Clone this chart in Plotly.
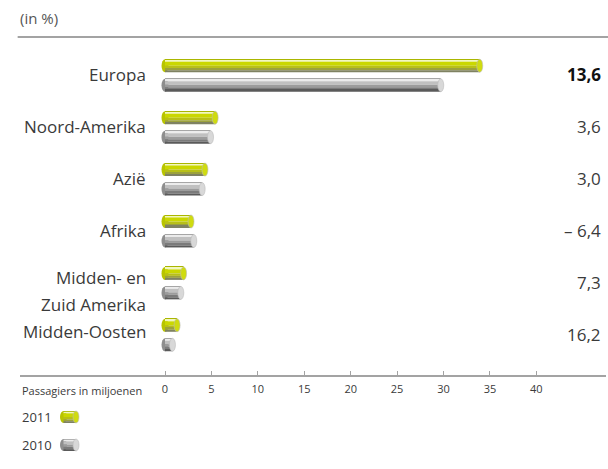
import plotly.graph_objects as go

categories = ["Europa", "Noord-Amerika", "Azië", "Afrika", "Midden- en Zuid Amerika", "Midden-Oosten"]
values_2011 = [33.9, 5.4, 4.3, 2.8, 2.0, 1.3]
values_2010 = [29.7, 4.9, 4.0, 3.1, 1.7, 0.8]
growth_labels = ["13,6", "3,6", "3,0", "– 6,4", "7,3", "16,2"]
x_ticks = [0, 5, 10, 15, 20, 25, 30, 35, 40]
series_names = ["2011", "2010"]

FONT = "Open Sans"
TXT = "#3a3a3a"

ypos = list(range(len(categories)))

# cylinder shading bands (pixel rows from top of a 13px bar)
BAR_PX = 13.0
BAR_W = 0.25
U = BAR_W / BAR_PX
green_bands = [(0, 1, "#aab600"), (1, 2.5, "#f2f7c0"), (2.5, 6.5, "#cad700"),
               (6.5, 9, "#b8c018"), (9, 11, "#9ca23c"), (11, 13, "#7f8262")]
grey_bands = [(0, 1, "#a6a6a6"), (1, 2.5, "#ececec"), (2.5, 6, "#c0c0c0"),
              (6, 8.5, "#9c9c9c"), (8.5, 11, "#7b7b7b"), (11, 13, "#5a5a5a")]

series = [
    (values_2011, -0.3125, green_bands, "#cfdb10", "#b8c400", 9.75),
    (values_2010, 0.0625, grey_bands, "#d8d8d8", "#8e8e8e", -9.75),
]

fig = go.Figure()
shapes = []
for vals, top, bands, capcol, leftcol, pxc in series:
    for (s, e, col) in bands:
        fig.add_trace(go.Bar(
            x=vals, y=ypos, orientation="h",
            offset=top + s * U, width=(e - s) * U,
            marker=dict(color=col, line=dict(width=0)),
            showlegend=False, hoverinfo="skip"))
    for i, v in enumerate(vals):
        # rounded left end
        shapes.append(dict(type="circle", layer="below", xref="x", yref="y",
                           xsizemode="pixel", ysizemode="pixel",
                           xanchor=0, x0=-3.5, x1=3.5,
                           yanchor=i, y0=pxc - 6.5, y1=pxc + 6.5,
                           fillcolor=leftcol, line=dict(width=0)))
        # elliptic end cap
        shapes.append(dict(type="circle", layer="above", xref="x", yref="y",
                           xsizemode="pixel", ysizemode="pixel",
                           xanchor=v, x0=-3, x1=3,
                           yanchor=i, y0=pxc - 6.5, y1=pxc + 6.5,
                           fillcolor=capcol, line=dict(width=0.6, color="#bbbbbb")))

# top rule
shapes.append(dict(type="line", xref="paper", yref="paper", x0=-0.004, x1=1.004,
                   y0=1, y1=1, line=dict(color="#a3a3a3", width=2)))

# legend symbols
for k, (bands, capcol, leftcol) in enumerate([(green_bands, "#cfdb10", "#b8c400"),
                                              (grey_bands, "#d8d8d8", "#8e8e8e")]):
    cy = -42 - 28 * k
    h = 12.0
    shapes.append(dict(type="circle", xref="paper", yref="paper",
                       xsizemode="pixel", ysizemode="pixel", xanchor=0, yanchor=0,
                       x0=40, x1=47, y0=cy - h / 2, y1=cy + h / 2,
                       fillcolor=leftcol, line=dict(width=0)))
    for (s, e, col) in bands:
        shapes.append(dict(type="rect", xref="paper", yref="paper",
                           xsizemode="pixel", ysizemode="pixel", xanchor=0, yanchor=0,
                           x0=43.5, x1=56, y0=cy + h / 2 - e * h / BAR_PX,
                           y1=cy + h / 2 - s * h / BAR_PX,
                           fillcolor=col, line=dict(width=0)))
    shapes.append(dict(type="circle", xref="paper", yref="paper",
                       xsizemode="pixel", ysizemode="pixel", xanchor=0, yanchor=0,
                       x0=53, x1=59, y0=cy - h / 2, y1=cy + h / 2,
                       fillcolor=capcol, line=dict(width=0.6, color="#bbbbbb")))

annotations = []
label_shift = [0, 0, 0, 0, None, 3]
for i, cat in enumerate(categories):
    if label_shift[i] is None:
        parts = ["Midden- en", "Zuid Amerika"]
        for t, sh in zip(parts, [6, -21]):
            annotations.append(dict(x=0, y=i, xref="x", yref="y", text=t, showarrow=False,
                                    xanchor="right", yanchor="middle", xshift=-17, yshift=sh,
                                    font=dict(family=FONT, size=17, color=TXT)))
    else:
        annotations.append(dict(x=0, y=i, xref="x", yref="y", text=cat, showarrow=False,
                                xanchor="right", yanchor="middle", xshift=-17,
                                yshift=label_shift[i] + 1,
                                font=dict(family=FONT, size=17, color=TXT)))
    g = growth_labels[i]
    annotations.append(dict(x=1, y=i, xref="paper", yref="y",
                            text=f"<b>{g}</b>" if i == 0 else g, showarrow=False,
                            xanchor="right", yanchor="middle", xshift=-3, yshift=1,
                            font=dict(family=FONT, size=17,
                                      color="#111111" if i == 0 else TXT)))

annotations.append(dict(x=0, y=1, xref="paper", yref="paper", text="(in %)", showarrow=False,
                        xanchor="left", yanchor="middle", xshift=-2, yshift=19,
                        font=dict(family=FONT, size=15, color="#555555")))
annotations.append(dict(x=0, y=0, xref="paper", yref="paper", text="Passagiers in miljoenen",
                        showarrow=False, xanchor="left", yanchor="middle", yshift=-15,
                        font=dict(family=FONT, size=11, color=TXT)))
for k, name in enumerate(series_names):
    annotations.append(dict(x=0, y=0, xref="paper", yref="paper", text=name, showarrow=False,
                            xanchor="left", yanchor="middle", yshift=-42 - 28 * k,
                            font=dict(family=FONT, size=13, color=TXT)))

fig.update_layout(
    width=608, height=469,
    margin=dict(l=20, r=2, t=37, b=94),
    paper_bgcolor="white", plot_bgcolor="white",
    barmode="overlay",
    showlegend=False,
    shapes=shapes,
    annotations=annotations,
    xaxis=dict(range=[-15.62, 47.5], tickvals=x_ticks, ticktext=[str(t) for t in x_ticks],
               showgrid=False, zeroline=False, showline=True, linecolor="#a3a3a3",
               linewidth=2, ticks="inside", ticklen=4, tickcolor="#a3a3a3", tickwidth=1,
               ticklabelstandoff=3,
               tickfont=dict(family=FONT, size=11, color=TXT), fixedrange=True),
    yaxis=dict(range=[5.77, -0.742], showticklabels=False, showgrid=False,
               zeroline=False, showline=False, ticks="", fixedrange=True),
)

fig.write_html("out.html", config={"displayModeBar": False},
               post_script="document.body.style.margin='0';document.body.style.overflow='hidden';")
